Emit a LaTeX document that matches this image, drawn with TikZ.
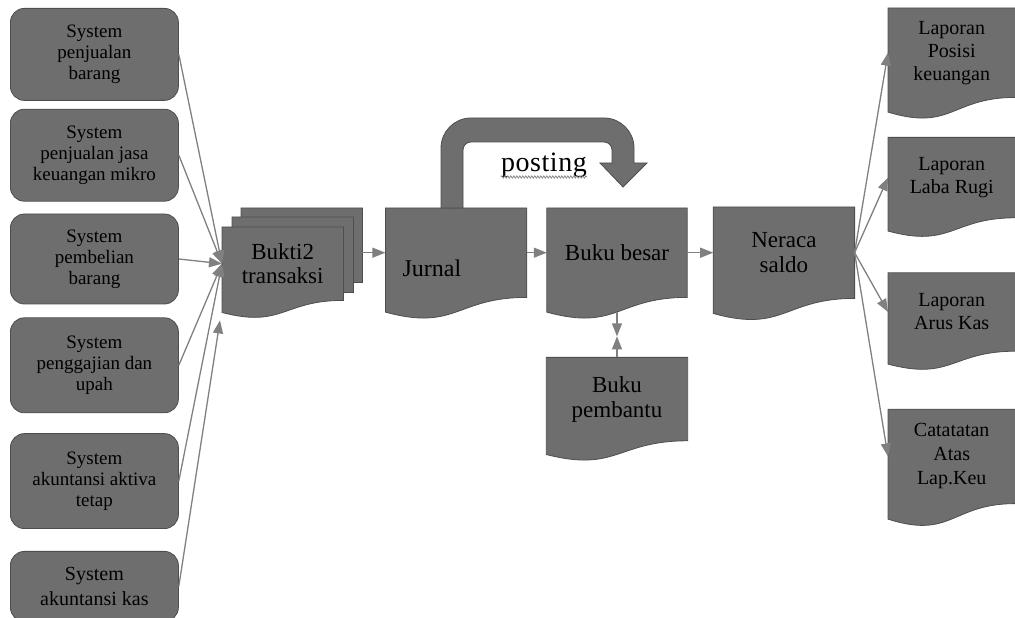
\documentclass[tikz,border=0pt]{standalone}
\usepackage{fontspec}
\setmainfont{Liberation Serif}
\usetikzlibrary{positioning,calc,arrows.meta,backgrounds,decorations.pathmorphing}
\definecolor{boxgray}{RGB}{110,110,110}
\definecolor{edgegray}{RGB}{78,78,78}
\definecolor{linegray}{RGB}{128,128,128}
\newcommand{\docshape}[1]{%
	\path[docfill] let \p1=(#1.north west), \p2=(#1.south east), \n1={\x2-\x1}, \n2={(\y1-\y2)/0.802} in
		(\p1) -- (\x2,\y1) -- (\p2) .. controls (\x1+0.5*\n1,\y2) and (\x1+0.5*\n1,\y1-1.1075*\n2) .. (\x1,\y1-0.934*\n2) -- cycle;}

\begin{document}
\begin{tikzpicture}[
		x=1pt, y=1pt
		,sys/.style={draw=edgegray, fill=boxgray, line width=0.8pt, rounded corners=14pt, minimum width=168pt, inner sep=0pt, align=center, font=\fontsize{19}{21}\selectfont}
		,doc/.style={inner sep=0pt, align=center, font=\fontsize{23}{24}\selectfont}
		,report/.style={doc, minimum width=127pt, font=\fontsize{20}{23}\selectfont}
		,docfill/.style={draw=edgegray, fill=boxgray, line width=0.8pt}
		,link/.style={draw=linegray, line width=1.3pt, -{Triangle[length=13pt,width=10pt]}}
	]
		\useasboundingbox (0,0) rectangle (1015,618);

		\node[sys, minimum height=92pt, anchor=north west] (s1) at (10,610) {System\\penjualan\\barang};
		\node[sys, minimum height=92pt, below=8pt of s1] (s2) {System\\penjualan jasa\\keuangan mikro};
		\node[sys, minimum height=90pt, below=12pt of s2] (s3) {System\\pembelian\\barang};
		\node[sys, minimum height=95pt, below=13pt of s3] (s4) {System\\penggajian dan\\upah};
		\node[sys, minimum height=95pt, below=20pt of s4] (s5) {System\\akuntansi aktiva\\tetap};
		\node[sys, minimum height=70pt, below=22pt of s5, font=\fontsize{20}{25}\selectfont] (s6) {System\\akuntansi kas};

		\node[doc, minimum width=121pt, minimum height=73pt, anchor=north west] (bukti) at (222,391) {Bukti2\\transaksi};
		\node[doc, minimum width=121pt, minimum height=75pt, anchor=north west] (buktiB) at ([shift={(10pt,10pt)}]bukti.north west) {};
		\node[doc, minimum width=121pt, minimum height=74pt, anchor=north west] (buktiC) at ([shift={(19pt,19pt)}]bukti.north west) {};
		\node[doc, minimum width=141pt, minimum height=89pt, right=42pt of bukti, yshift=11pt, text width=107pt, align=left, text height=47pt, font=\fontsize{24}{24}\selectfont] (jurnal) {Jurnal};
		\node[doc, minimum width=140pt, minimum height=89pt, right=20pt of jurnal] (besar) {Buku besar};
		\node[doc, minimum width=141pt, minimum height=91pt, right=26pt of besar, font=\fontsize{23}{25}\selectfont] (neraca) {Neraca\\saldo};
		\node[doc, minimum width=141pt, minimum height=83pt, below=60pt of besar, font=\fontsize{23}{25}\selectfont] (pembantu) {Buku\\pembantu};

		\node[report, minimum height=89pt, anchor=north west] (posisi) at (888,610) {Laporan\\Posisi\\keuangan};
		\node[report, minimum height=80pt, below=40pt of posisi] (laba) {Laporan\\Laba Rugi};
		\node[report, minimum height=78pt, below=55pt of laba] (arus) {Laporan\\Arus Kas};
		\node[report, minimum height=94pt, below=58pt of arus, font=\fontsize{20}{24}\selectfont] (catat) {Catatatan\\Atas\\Lap.Keu};

		\begin{scope}[on background layer]
			\docshape{buktiC}
			\docshape{buktiB}
			\docshape{bukti}
			\docshape{jurnal}
			\docshape{besar}
			\docshape{neraca}
			\docshape{pembantu}
			\docshape{posisi}
			\docshape{laba}
			\docshape{arus}
			\docshape{catat}
		\end{scope}

		\path[docfill] (441,410) -- (441,470) arc[start angle=180, end angle=90, radius=30] -- (604,500)
			arc[start angle=90, end angle=0, radius=30] -- (634,455) -- (647,455) -- (623,431) -- (600,455) -- (612,455)
			-- (612,468) arc[start angle=0, end angle=90, radius=8] -- (471,476) arc[start angle=90, end angle=180, radius=8] -- (463,410) -- cycle;
		\node[anchor=base, inner sep=0pt, font=\fontsize{28}{28}\selectfont\addfontfeatures{LetterSpace=2}] (post) at (544,446) {posting};
		\draw[linegray, line width=0.7pt, decorate, decoration={snake, amplitude=1.2pt, segment length=3pt}] ([yshift=-5pt]post.base west) -- ([yshift=-5pt]post.base east);

		\coordinate (buktibot) at ([xshift=-2pt, yshift=-20pt]bukti.south west);
		\coordinate (meet) at ([yshift=-39pt]besar.south);

		\foreach \s in {s1,s2,s3,s4,s5}
			\draw[link] (\s.east) -- (bukti.west);
		\draw[link] (s6.east) -- (buktibot);
		\draw[link] (jurnal.west -| buktiC.east) -- (jurnal.west);
		\draw[link] (jurnal) -- (besar);
		\draw[link] (besar) -- (neraca);
		\draw[link] ([yshift=-15pt]besar.south) -- (meet);
		\draw[link] (pembantu.north) -- (meet);
		\foreach \r in {posisi,laba,arus,catat}
			\draw[link] (neraca.east) -- (\r.west);
	\end{tikzpicture}
\end{document}
